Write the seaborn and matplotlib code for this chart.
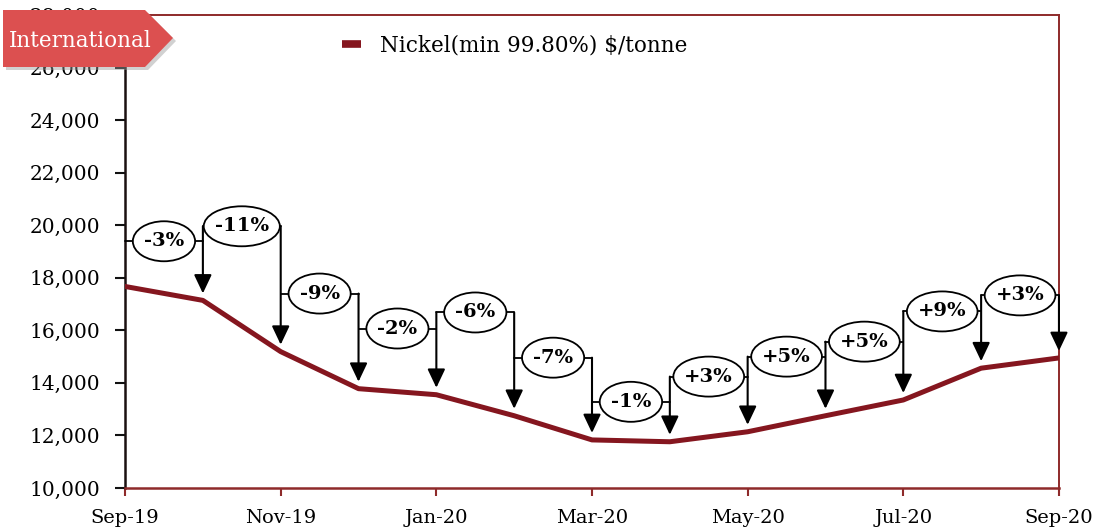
import numpy as np
import pandas as pd
import matplotlib
matplotlib.use("Agg")
import matplotlib.pyplot as plt
from matplotlib.patches import Ellipse, Polygon
import seaborn as sns

# Monthly nickel price (min 99.80%), $/tonne
months = ["Sep-19", "Oct-19", "Nov-19", "Dec-19", "Jan-20", "Feb-20", "Mar-20",
          "Apr-20", "May-20", "Jun-20", "Jul-20", "Aug-20", "Sep-20"]
nickel = [17670, 17140, 15190, 13780, 13550, 12750, 11830,
          11760, 12140, 12750, 13350, 14560, 14950]

series_name = "Nickel(min 99.80%) $/tonne"
tag_text = "International"

# vertical placement of the month-on-month change badges
badge_y = [19390, 19960, 17400, 16070, 16680, 14960, 13280,
           14240, 15000, 15570, 16720, 17330]

LINE_RED = "#85161F"
SPINE_RED = "#8E2A2A"
TAG_RED = "#DC5050"

sns.set_style("white")
plt.rcParams["font.family"] = ["DejaVu Serif", "DejaVu Sans"]
plt.rcParams["text.color"] = "black"
plt.rcParams["xtick.color"] = "black"
plt.rcParams["ytick.color"] = "black"

df = pd.DataFrame({"pos": np.arange(len(months)), "price": nickel})

fig = plt.figure(figsize=(10.96, 5.29), dpi=100)
ax = fig.add_axes([0.1141, 0.0775, 0.8521, 0.8941])

sns.lineplot(data=df, x="pos", y="price", ax=ax, color=LINE_RED, lw=3.6,
             label=series_name, zorder=3)

ax.set_xlim(0, len(months) - 1)
ax.set_ylim(10000, 28000)
ax.set_yticks(np.arange(10000, 28001, 2000))
ax.set_yticklabels([f"{v:,}" for v in range(10000, 28001, 2000)], fontsize=14.5)
ax.set_xticks(np.arange(0, len(months), 2))
ax.set_xticklabels(months[::2], fontsize=14)
ax.set_xlabel("")
ax.set_ylabel("")

ax.tick_params(axis="y", direction="out", length=7, width=1.5, color="#111111",
               pad=11, left=True, labelcolor="black")
ax.tick_params(axis="x", direction="out", length=6, width=1.5, color=SPINE_RED,
               pad=9, bottom=True, labelcolor="black")

ax.spines["left"].set_color("#1a1010")
ax.spines["left"].set_linewidth(1.8)
for side in ["bottom", "right", "top"]:
    ax.spines[side].set_color(SPINE_RED)
ax.spines["bottom"].set_linewidth(1.8)
ax.spines["right"].set_linewidth(1.4)
ax.spines["top"].set_linewidth(1.4)
ax.grid(False)

leg = ax.legend(loc="upper left", bbox_to_anchor=(0.212, 1.0), frameon=False,
                handlelength=0.85, handletextpad=0.9, fontsize=15.5)
for h in leg.get_lines():
    h.set_linewidth(5.5)
    h.set_solid_capstyle("butt")
for t in leg.get_texts():
    t.set_color("black")

# month-on-month change badges
fig.canvas.draw()
renderer = fig.canvas.get_renderer()
ax_bb = ax.get_window_extent(renderer)
px_per_x = ax_bb.width / (len(months) - 1)
px_per_y = ax_bb.height / (28000 - 10000)

changes = [(nickel[i] / nickel[i - 1] - 1) * 100 for i in range(1, len(nickel))]
for i, (chg, by) in enumerate(zip(changes, badge_y), start=1):
    xc = i - 0.5
    ax.plot([i - 1, i], [by, by], color="black", lw=1.3, zorder=4, clip_on=False)
    t = ax.text(xc, by, f"{chg:+.0f}%", ha="center", va="center", fontsize=14,
                fontweight="bold", color="black", zorder=6)
    tb = t.get_window_extent(renderer)
    w = (tb.width + 22) / px_per_x
    h = 40 / px_per_y
    ax.add_patch(Ellipse((xc, by), w, h, facecolor="white", edgecolor="black",
                         lw=1.3, zorder=5, clip_on=False))

for i in range(1, len(nickel)):
    top = badge_y[i - 1]
    if i < len(badge_y):
        top = max(top, badge_y[i])
    ax.annotate("", xy=(i, nickel[i] + 7 / px_per_y), xytext=(i, top),
                arrowprops=dict(arrowstyle="-|>,head_length=0.95,head_width=0.45",
                                color="black", lw=1.5, mutation_scale=12,
                                shrinkA=0, shrinkB=0),
                zorder=4, annotation_clip=False)

# region tag in the top-left corner
W, H = fig.get_size_inches() * fig.dpi
def fxy(px, py):
    return (px / W, 1 - py / H)

tag_pts = [(3, 10), (145, 10), (173, 38), (145, 67), (3, 67)]
shadow = Polygon([fxy(x + 3, y + 3) for x, y in tag_pts], closed=True,
                 transform=fig.transFigure, facecolor="#9a9a9a", alpha=0.45,
                 edgecolor="none", zorder=9)
tag = Polygon([fxy(x, y) for x, y in tag_pts], closed=True,
              transform=fig.transFigure, facecolor=TAG_RED, edgecolor="none",
              zorder=10)
fig.patches.extend([shadow, tag])
fig.text(*fxy(80, 41), tag_text, ha="center", va="center", color="white",
         fontsize=15.5, zorder=11)

fig.savefig("out.png", dpi=100, facecolor="white")
